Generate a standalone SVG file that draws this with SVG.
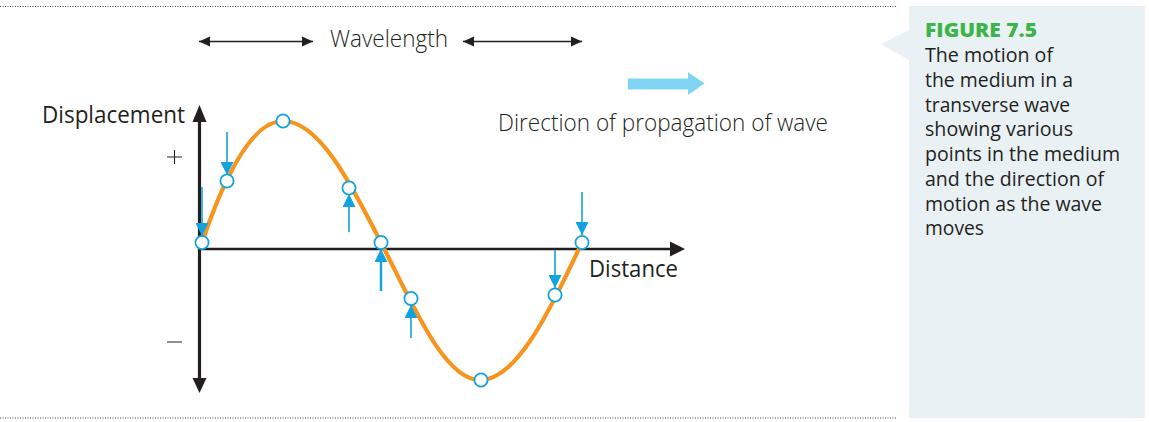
<svg xmlns="http://www.w3.org/2000/svg" width="1149" height="422" viewBox="0 0 1149 422">
<style>
.dot{stroke:#444;stroke-width:1.2;stroke-dasharray:1 1.5;fill:none}
.txt{font-family:"Open Sans","Liberation Sans",sans-serif;fill:#231f20}
.light{font-weight:300}
.cap{font-family:"Open Sans","Liberation Sans",sans-serif;font-size:19.5px;fill:#231f20}
.fig{font-family:"Open Sans","Liberation Sans",sans-serif;font-size:19px;font-weight:800;fill:#3db449}
.pt{fill:#fff;stroke:#12a3df;stroke-width:1.8}
.ba{stroke:#12a3df;stroke-width:1.6;fill:none;marker-end:url(#bh)}
.wl{stroke:#231f20;stroke-width:1.3;fill:none;marker-end:url(#kh);marker-start:url(#kh)}
</style>
<defs>
<marker id="bh" viewBox="0 0 12 12" refX="12" refY="6" markerWidth="13" markerHeight="13" markerUnits="userSpaceOnUse" orient="auto">
<path d="M0,0 L12,6 L0,12 z" fill="#12a3df"/>
</marker>
<marker id="kh" viewBox="0 0 11 10" refX="11" refY="5" markerWidth="11" markerHeight="11" markerUnits="userSpaceOnUse" orient="auto-start-reverse">
<path d="M0,0 L11,5 L0,10 z" fill="#231f20"/>
</marker>
</defs>
<rect width="1149" height="422" fill="#fff"/>
<line class="dot" x1="0" y1="6.5" x2="897" y2="6.5"/>
<line class="dot" x1="0" y1="418" x2="897" y2="418"/>

<g id="caption">
<rect x="909" y="6" width="236" height="412" fill="#e9f1f4"/>
<polygon points="909,30 881,44 909,60" fill="#e9f1f4"/>
<text class="fig" x="925" y="37" textLength="112" lengthAdjust="spacingAndGlyphs">FIGURE 7.5</text>
<text class="cap" x="925" y="62" textLength="128" lengthAdjust="spacingAndGlyphs">The motion of</text>
<text class="cap" x="925" y="87" textLength="148" lengthAdjust="spacingAndGlyphs">the medium in a</text>
<text class="cap" x="925" y="111.5" textLength="145" lengthAdjust="spacingAndGlyphs">transverse wave</text>
<text class="cap" x="925" y="136" textLength="148" lengthAdjust="spacingAndGlyphs">showing various</text>
<text class="cap" x="925" y="161" textLength="195" lengthAdjust="spacingAndGlyphs">points in the medium</text>
<text class="cap" x="925" y="186" textLength="179" lengthAdjust="spacingAndGlyphs">and the direction of</text>
<text class="cap" x="925" y="210.5" textLength="177" lengthAdjust="spacingAndGlyphs">motion as the wave</text>
<text class="cap" x="925" y="235" textLength="59" lengthAdjust="spacingAndGlyphs">moves</text>
</g>

<g id="axes">
<line x1="199.5" y1="118" x2="199.5" y2="380" stroke="#231f20" stroke-width="3.2"/>
<polygon points="199.5,105 192.5,122 206.5,122" fill="#231f20"/>
<polygon points="199.5,393 192.5,378 206.5,378" fill="#231f20"/>
<line x1="199" y1="249" x2="672" y2="249" stroke="#231f20" stroke-width="2.4"/>
<polygon points="685,249 670,241.5 670,256.5" fill="#231f20"/>
<path d="M167,157 H182 M174.5,150 V164 M167,342 H182" stroke="#231f20" stroke-width="1.1" fill="none"/>
</g>

<g id="labels">
<text class="txt" x="42" y="123" font-size="23" textLength="143" lengthAdjust="spacingAndGlyphs">Displacement</text>
<text class="txt" x="589" y="277" font-size="23" textLength="89" lengthAdjust="spacingAndGlyphs">Distance</text>
<text class="txt light" x="330" y="47" font-size="23" textLength="118" lengthAdjust="spacingAndGlyphs">Wavelength</text>
<text class="txt light" x="498" y="131" font-size="23.5" textLength="330" lengthAdjust="spacingAndGlyphs">Direction of propagation of wave</text>
</g>

<g id="wave">
<path d="M202,242.5 C226,172 253.7,121 283,121 C318.5,121 349,180 381,242.5 C413,305 444.2,380 480,380 C516.9,380 548.7,312.7 582,242.5" fill="none" stroke="#f7941d" stroke-width="4.2"/>
</g>

<g id="propagation-arrow">
<polygon points="628,78.5 688,78.5 688,72 704.5,83.5 688,95 688,89.5 628,89.5" fill="#82d4f4"/>
</g>

<g id="connectors">
<line class="wl" x1="199" y1="41.5" x2="313" y2="41.5"/>
<line class="wl" x1="463" y1="41.5" x2="582" y2="41.5"/>
<line class="ba" x1="202" y1="187" x2="202" y2="236"/>
<line class="ba" x1="227" y1="132" x2="227" y2="175"/>
<line class="ba" x1="349" y1="232" x2="349" y2="194"/>
<line class="ba" x1="381" y1="291" x2="381" y2="249" style="stroke-width:2.4"/>
<line class="ba" x1="411" y1="338" x2="411" y2="305"/>
<line class="ba" x1="555" y1="250" x2="555" y2="288"/>
<line class="ba" x1="582" y1="192" x2="582" y2="235"/>
</g>

<g id="points">
<circle class="pt" cx="202" cy="242.5" r="6.6"/>
<circle class="pt" cx="227" cy="181" r="6.6"/>
<circle class="pt" cx="283" cy="121" r="6.6"/>
<circle class="pt" cx="349" cy="188" r="6.6"/>
<circle class="pt" cx="381" cy="242.5" r="6.6"/>
<circle class="pt" cx="411" cy="298.5" r="6.6"/>
<circle class="pt" cx="481" cy="380" r="6.6"/>
<circle class="pt" cx="555" cy="295" r="6.6"/>
<circle class="pt" cx="582" cy="242.5" r="6.6"/>
</g>
</svg>
